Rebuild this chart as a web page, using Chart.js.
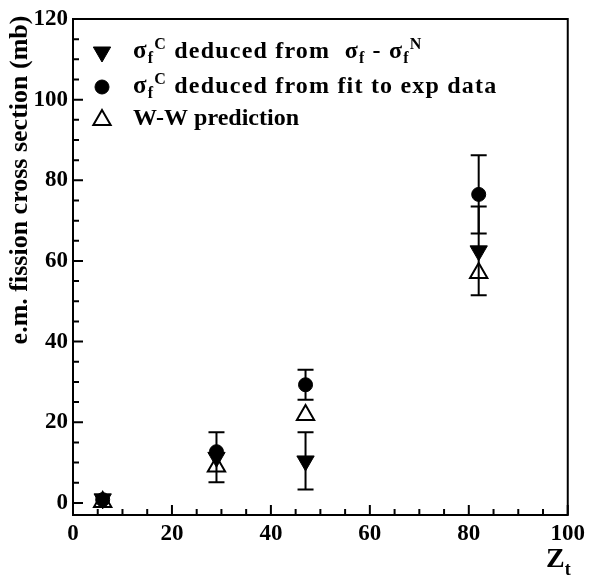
<!DOCTYPE html>
<html>
<head>
<meta charset="utf-8">
<script src="https://cdn.jsdelivr.net/npm/chart.js@4.4.1/dist/chart.umd.min.js"></script>
<style>
  html, body { margin: 0; padding: 0; background: #fff; }
  #chart { display: block; }
</style>
</head>
<body>
<canvas id="chart" width="590" height="577"></canvas>
<script>
// target charge Z_t and the three cross section sets (mb)
var zValues = [6, 29, 47, 82];
var sigmaDiff = [1.0, 11.3, 10.4, 62.5];
var sigmaDiffErr = [0, 6.2, 7.1, 11.0];
var sigmaFit = [0.8, 12.7, 29.3, 76.5];
var sigmaFitErr = [0, 0, 3.7, 9.7];
var wwPrediction = [0.2, 9.0, 21.8, 57.0];

var xTicks = [0, 20, 40, 60, 80, 100];
var yTicks = [0, 20, 40, 60, 80, 100, 120];

var FONT = '"Liberation Serif", "Times New Roman", serif';

function points(ys, errs) {
    return zValues.map(function(z, i) {
        return { x: z, y: ys[i], err: errs ? errs[i] : 0 };
    });
}

var datasets = [
    {
        label: 'diff',
        data: points(sigmaDiff, sigmaDiffErr),
        pointStyle: 'triangle', rotation: 180, pointRadius: 10,
        backgroundColor: '#000', borderColor: '#000', borderWidth: 1
    },
    {
        label: 'fit',
        data: points(sigmaFit, sigmaFitErr),
        pointStyle: 'circle', pointRadius: 7,
        backgroundColor: '#000', borderColor: '#000', borderWidth: 1
    },
    {
        label: 'ww',
        data: points(wwPrediction),
        pointStyle: 'triangle', pointRadius: 10,
        backgroundColor: 'rgba(0,0,0,0)', borderColor: '#000', borderWidth: 2
    }
];

// draw a run of text pieces with sub/superscripts
function drawRich(ctx, x, y, parts, spacing) {
    ctx.letterSpacing = (spacing || 0) + 'px';
    parts.forEach(function(p) {
        ctx.font = 'bold ' + p.size + 'px ' + FONT;
        ctx.fillText(p.t, x, y + (p.dy || 0));
        x += ctx.measureText(p.t).width;
    });
    ctx.letterSpacing = '0px';
    return x;
}

var framePlugin = {
    id: 'frame',
    afterDatasetsDraw: function(chart) {
        var ctx = chart.ctx;
        var xs = chart.scales.x, ys = chart.scales.y;
        ctx.save();
        ctx.strokeStyle = '#000';
        ctx.lineWidth = 2;

        // error bars
        chart.data.datasets.forEach(function(ds) {
            ds.data.forEach(function(p) {
                if (!p.err) return;
                var px = xs.getPixelForValue(p.x);
                var top = ys.getPixelForValue(p.y + p.err);
                var bot = ys.getPixelForValue(p.y - p.err);
                ctx.beginPath();
                ctx.moveTo(px, top); ctx.lineTo(px, bot);
                ctx.moveTo(px - 8, top); ctx.lineTo(px + 8, top);
                ctx.moveTo(px - 8, bot); ctx.lineTo(px + 8, bot);
                ctx.stroke();
            });
        });

        // frame
        var a = chart.chartArea;
        ctx.strokeRect(a.left, a.top, a.right - a.left, a.bottom - a.top);

        // inward ticks, minor every 5
        ctx.beginPath();
        for (var v = 0; v <= 100; v += 5) {
            var px = xs.getPixelForValue(v);
            var len = v % 20 === 0 ? 10 : 6;
            ctx.moveTo(px, a.bottom); ctx.lineTo(px, a.bottom - len);
        }
        for (var w = 0; w <= 120; w += 5) {
            var py = ys.getPixelForValue(w);
            var l2 = w % 20 === 0 ? 10 : 6;
            ctx.moveTo(a.left, py); ctx.lineTo(a.left + l2, py);
        }
        ctx.stroke();

        // legend
        var lx = 102, tx = 133;
        var rows = [52, 87, 120];
        chart.data.datasets.forEach(function(ds, i) {
            ctx.fillStyle = ds.backgroundColor;
            ctx.strokeStyle = ds.borderColor;
            ctx.lineWidth = ds.borderWidth;
            Chart.helpers.drawPoint(ctx, {
                pointStyle: ds.pointStyle, rotation: ds.rotation || 0,
                radius: ds.pointRadius, borderWidth: ds.borderWidth
            }, lx, rows[i]);
        });
        ctx.fillStyle = '#000';
        ctx.textAlign = 'left';
        ctx.textBaseline = 'alphabetic';
        drawRich(ctx, tx, 58, [
            { t: '\u03c3', size: 25 }, { t: 'f', size: 16, dy: 5 },
            { t: 'C', size: 16, dy: -9 },
            { t: ' deduced from  \u03c3', size: 24 }, { t: 'f', size: 16, dy: 5 },
            { t: ' - \u03c3', size: 24 }, { t: 'f', size: 16, dy: 5 },
            { t: 'N', size: 16, dy: -9 }
        ], 1.2);
        drawRich(ctx, tx, 93, [
            { t: '\u03c3', size: 25 }, { t: 'f', size: 16, dy: 5 },
            { t: 'C', size: 16, dy: -9 },
            { t: ' deduced from fit to exp data', size: 24 }
        ], 1.2);
        drawRich(ctx, tx, 125, [{ t: 'W-W prediction', size: 24 }]);

        // axis titles
        drawRich(ctx, 546, 567, [{ t: 'Z', size: 28 }, { t: 't', size: 18, dy: 8 }]);
        ctx.translate(27, 180);
        ctx.rotate(-Math.PI / 2);
        ctx.textAlign = 'center';
        ctx.font = 'bold 26px ' + FONT;
        ctx.fillText('e.m. fission cross section (mb)', 0, 0);
        ctx.restore();
    }
};

new Chart(document.getElementById('chart'), {
    type: 'scatter',
    data: { datasets: datasets },
    options: {
        responsive: false,
        devicePixelRatio: 1,
        animation: false,
        layout: { padding: { top: 19, right: 19, left: 0, bottom: 0 } },
        plugins: { legend: { display: false }, tooltip: { enabled: false } },
        scales: {
            x: {
                min: 0, max: 100,
                grid: { display: false, drawTicks: false },
                border: { display: false },
                afterBuildTicks: function(s) { s.ticks = xTicks.map(function(v) { return { value: v }; }); },
                afterFit: function(s) { s.height = 62; },
                ticks: { color: '#000', padding: 5, maxRotation: 0, font: { family: FONT, size: 23, weight: 'bold' } }
            },
            y: {
                min: -3, max: 120,
                grid: { display: false, drawTicks: false },
                border: { display: false },
                afterBuildTicks: function(s) { s.ticks = yTicks.map(function(v) { return { value: v }; }); },
                afterFit: function(s) { s.width = 73; },
                ticks: { color: '#000', padding: 5, font: { family: FONT, size: 23, weight: 'bold' } }
            }
        }
    },
    plugins: [framePlugin]
});
</script>
</body>
</html>
